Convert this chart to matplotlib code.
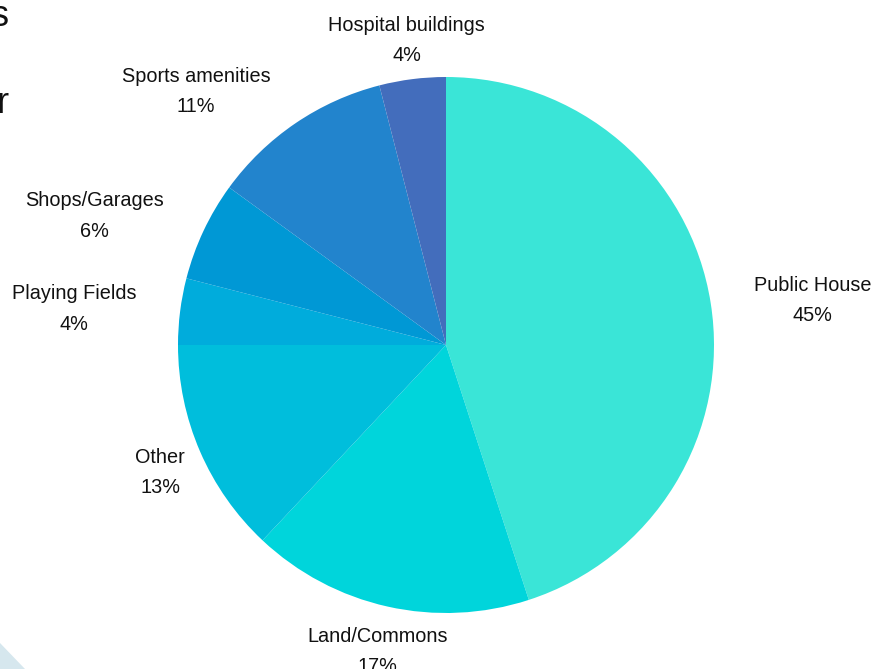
import matplotlib
matplotlib.use("Agg")
import matplotlib.pyplot as plt
from matplotlib.patches import Polygon

categories = ["Public House", "Land/Commons", "Other", "Playing Fields",
              "Shops/Garages", "Sports amenities", "Hospital buildings"]
values = [45, 17, 13, 4, 6, 11, 4]
colors = ["#3AE5D7", "#00D5DB", "#00BEDC", "#00ACDC", "#0098D5", "#2284CD", "#436DBC"]

# label anchor positions (axes data coords, pie radius = 1)
label_pos = [(1.369, 0.167), (-0.254, -1.143), (-1.067, -0.475), (-1.388, 0.134),
             (-1.313, 0.481), (-0.933, 0.947), (-0.146, 1.137)]

plt.rcParams['font.family'] = ['Liberation Sans', 'DejaVu Sans']

W, H = 875, 669
fig = plt.figure(figsize=(W / 100, H / 100), dpi=100)
fig.patch.set_facecolor("white")

cx, cy, r = 446, 345, 268
ax = fig.add_axes([(cx - r) / W, (H - cy - r) / H, 2 * r / W, 2 * r / H])
ax.pie(values, colors=colors, startangle=90, counterclock=False, radius=1,
       wedgeprops=dict(linewidth=0))
ax.set_xlim(-1, 1)
ax.set_ylim(-1, 1)
ax.set_aspect("equal")
ax.axis("off")

for cat, v, (x, y) in zip(categories, values, label_pos):
    ax.text(x, y, f"{cat}\n{v}%", ha="center", va="center", fontsize=14.3,
            color="#111111", linespacing=1.75)

# cut-off title fragments at top-left
fig.text(9 / W, 1 - 26 / H, "s", ha="right", va="baseline", fontsize=26, color="#111111")
fig.text(9 / W, 1 - 113 / H, "r", ha="right", va="baseline", fontsize=26, color="#111111")

# decorative corner triangle
tri = Polygon([(0, 1 - 643 / H), (0, 0), (25 / W, 0)], closed=True,
              transform=fig.transFigure, facecolor="#D6E7EE", edgecolor="none")
fig.patches.append(tri)

fig.savefig("out.png", dpi=100)
